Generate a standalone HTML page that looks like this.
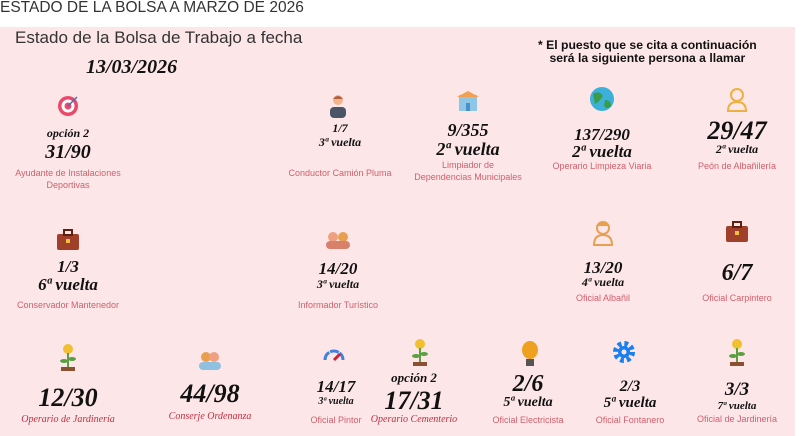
<!DOCTYPE html>
<html><head><meta charset="utf-8"><style>
*{margin:0;padding:0}
body{width:802px;height:436px;background:#fff;position:relative;overflow:hidden;font-family:"Liberation Sans",sans-serif}
#bg{position:absolute;left:0;top:27px;width:795px;height:409px;background:#fde6e8}
.c{position:absolute;transform:translateX(-50%);white-space:nowrap;text-align:center;line-height:1}
.n{font-family:"Liberation Serif",serif;font-weight:bold;font-style:italic;color:#111}
.l{font-size:9px;color:#d0606c;line-height:12px}
.i{position:absolute;transform:translateX(-50%)}
</style></head><body>
<div style="position:absolute;left:0;top:-1px;font-size:15.5px;color:#333;">ESTADO DE LA BOLSA A MARZO DE 2026</div>
<div id="bg"></div>
<div style="position:absolute;left:15px;top:28px;font-size:17px;color:#333">Estado de la Bolsa de Trabajo a fecha</div>
<div class="n" style="position:absolute;left:86px;top:56px;font-size:20px">13/03/2026</div>
<div style="position:absolute;left:538px;top:39px;font-size:12.2px;font-weight:bold;color:#111;line-height:13px;text-align:center">* El puesto que se cita a continuación<br>será la siguiente persona a llamar</div>

<!-- row1 -->
<svg class="i" style="left:68px;top:94px" width="24" height="24"><circle cx="12" cy="12" r="10" fill="#e94a6a"/><circle cx="12" cy="12" r="6.5" fill="#fff"/><circle cx="12" cy="12" r="3.5" fill="#e94a6a"/><line x1="12" y1="12" x2="21" y2="3" stroke="#4a6fb0" stroke-width="1.5"/></svg>
<div class="c n" style="left:68px;top:127px;font-size:12px">opción 2</div>
<div class="c n" style="left:68px;top:142px;font-size:20px">31/90</div>
<div class="c l" style="left:68px;top:167px">Ayudante de Instalaciones<br>Deportivas</div>

<svg class="i" style="left:338px;top:93px" width="20" height="26"><circle cx="10" cy="7" r="5" fill="#f2b48a"/><path d="M5 6 Q10 0 15 6" fill="#b06040"/><rect x="2" y="14" width="16" height="11" rx="4" fill="#4a5568"/></svg>
<div class="c n" style="left:340px;top:122px;font-size:12px">1/7</div>
<div class="c n" style="left:340px;top:136px;font-size:12px">3ª vuelta</div>
<div class="c l" style="left:340px;top:167px">Conductor Camión Pluma</div>

<svg class="i" style="left:468px;top:87px" width="26" height="26"><rect x="4" y="8" width="18" height="16" fill="#8ec6e8"/><path d="M2 10 L13 4 L24 10Z" fill="#f0a050"/><rect x="11" y="16" width="4" height="8" fill="#4a90c8"/></svg>
<div class="c n" style="left:468px;top:121px;font-size:18px">9/355</div>
<div class="c n" style="left:468px;top:140px;font-size:18px">2ª vuelta</div>
<div class="c l" style="left:468px;top:159px">Limpiador de<br>Dependencias Municipales</div>

<svg class="i" style="left:602px;top:86px" width="26" height="26"><circle cx="13" cy="13" r="12" fill="#3bb0d8"/><path d="M4 8 Q10 4 14 10 Q10 16 6 18Z M16 14 Q22 14 22 20 Q18 24 15 20Z" fill="#3a9c48"/></svg>
<div class="c n" style="left:602px;top:126px;font-size:17px">137/290</div>
<div class="c n" style="left:602px;top:143px;font-size:17px">2ª vuelta</div>
<div class="c l" style="left:602px;top:160px">Operario Limpieza Viaria</div>

<svg class="i" style="left:737px;top:87px" width="24" height="26"><circle cx="12" cy="8" r="6" fill="none" stroke="#eeb040" stroke-width="2"/><path d="M3 24 Q3 15 12 15 Q21 15 21 24Z" fill="none" stroke="#eeb040" stroke-width="2"/></svg>
<div class="c n" style="left:737px;top:118px;font-size:26px">29/47</div>
<div class="c n" style="left:737px;top:143px;font-size:12px">2ª vuelta</div>
<div class="c l" style="left:737px;top:160px">Peón de Albañilería</div>

<!-- row2 -->
<svg class="i" style="left:68px;top:229px" width="26" height="22"><rect x="2" y="5" width="22" height="16" rx="2" fill="#a0402a"/><rect x="9" y="1" width="8" height="5" fill="none" stroke="#602010" stroke-width="2"/><rect x="11" y="10" width="4" height="4" fill="#f0c040"/></svg>
<div class="c n" style="left:68px;top:258px;font-size:17px">1/3</div>
<div class="c n" style="left:68px;top:276px;font-size:17px">6ª vuelta</div>
<div class="c l" style="left:68px;top:299px">Conservador Mantenedor</div>

<svg class="i" style="left:338px;top:229px" width="28" height="20"><circle cx="9" cy="8" r="5" fill="#f0a080"/><circle cx="19" cy="8" r="5" fill="#e8a050"/><rect x="2" y="12" width="24" height="8" rx="4" fill="#d8806a"/></svg>
<div class="c n" style="left:338px;top:260px;font-size:17px">14/20</div>
<div class="c n" style="left:338px;top:278px;font-size:12px">3ª vuelta</div>
<div class="c l" style="left:338px;top:299px">Informador Turístico</div>

<svg class="i" style="left:603px;top:218px" width="24" height="28"><circle cx="12" cy="10" r="6" fill="none" stroke="#e8a050" stroke-width="2"/><path d="M5 8 Q12 0 19 8" fill="#e8a050"/><path d="M3 27 Q3 17 12 17 Q21 17 21 27Z" fill="none" stroke="#e8a050" stroke-width="2"/></svg>
<div class="c n" style="left:603px;top:259px;font-size:17px">13/20</div>
<div class="c n" style="left:603px;top:276px;font-size:12px">4ª vuelta</div>
<div class="c l" style="left:603px;top:292px">Oficial Albañil</div>

<svg class="i" style="left:737px;top:221px" width="26" height="22"><rect x="2" y="5" width="22" height="16" rx="2" fill="#a0402a"/><rect x="9" y="1" width="8" height="5" fill="none" stroke="#602010" stroke-width="2"/><rect x="11" y="10" width="4" height="4" fill="#f0c040"/></svg>
<div class="c n" style="left:737px;top:261px;font-size:24px">6/7</div>
<div class="c l" style="left:737px;top:292px">Oficial Carpintero</div>

<!-- row3 -->
<svg class="i" style="left:68px;top:343px" width="18" height="30"><circle cx="9" cy="6" r="5" fill="#f0c030"/><line x1="9" y1="10" x2="9" y2="24" stroke="#5aa040" stroke-width="2"/><ellipse cx="5" cy="18" rx="4" ry="2" fill="#5aa040"/><ellipse cx="13" cy="16" rx="4" ry="2" fill="#5aa040"/><rect x="2" y="24" width="14" height="4" fill="#8a5030"/></svg>
<div class="c n" style="left:68px;top:385px;font-size:26px">12/30</div>
<div class="c n l" style="left:68px;top:414px;font-weight:normal;color:#c03040;font-size:10px">Operario de Jardinería</div>

<svg class="i" style="left:210px;top:350px" width="26" height="20"><circle cx="9" cy="7" r="5" fill="#e8a050"/><circle cx="17" cy="7" r="5" fill="#f0a080"/><rect x="2" y="12" width="22" height="8" rx="4" fill="#90c0e0"/></svg>
<div class="c n" style="left:210px;top:381px;font-size:26px">44/98</div>
<div class="c n l" style="left:210px;top:411px;font-weight:normal;color:#c03040;font-size:10px">Conserje Ordenanza</div>

<svg class="i" style="left:334px;top:344px" width="24" height="20"><path d="M3 16 A9 9 0 0 1 21 16" fill="none" stroke="#4080e0" stroke-width="3" stroke-dasharray="9 1"/><path d="M12 16 L18 10" stroke="#d02030" stroke-width="3"/></svg>
<div class="c n" style="left:336px;top:378px;font-size:17px">14/17</div>
<div class="c n" style="left:336px;top:397px;font-size:10px">3ª vuelta</div>
<div class="c l" style="left:336px;top:414px">Oficial Pintor</div>

<svg class="i" style="left:420px;top:338px" width="18" height="30"><circle cx="9" cy="6" r="5" fill="#f0c030"/><line x1="9" y1="10" x2="9" y2="24" stroke="#5aa040" stroke-width="2"/><ellipse cx="5" cy="18" rx="4" ry="2" fill="#5aa040"/><ellipse cx="13" cy="16" rx="4" ry="2" fill="#5aa040"/><rect x="2" y="24" width="14" height="4" fill="#8a5030"/></svg>
<div class="c n" style="left:414px;top:371px;font-size:13px">opción 2</div>
<div class="c n" style="left:414px;top:388px;font-size:26px">17/31</div>
<div class="c n l" style="left:414px;top:414px;font-weight:normal;color:#c03040;font-size:10px">Operario Cementerio</div>

<svg class="i" style="left:530px;top:340px" width="18" height="28"><ellipse cx="9" cy="10" rx="8" ry="9" fill="#f0a020"/><rect x="5" y="19" width="8" height="7" fill="#555"/></svg>
<div class="c n" style="left:528px;top:372px;font-size:24px">2/6</div>
<div class="c n" style="left:528px;top:396px;font-size:14px">5ª vuelta</div>
<div class="c l" style="left:528px;top:414px">Oficial Electricista</div>

<svg class="i" style="left:624px;top:341px" width="22" height="22"><circle cx="11" cy="11" r="8" fill="none" stroke="#1a80f0" stroke-width="6" stroke-dasharray="3.5 2.8"/><circle cx="11" cy="11" r="6" fill="#1a80f0"/><circle cx="11" cy="11" r="2.5" fill="#fde6e8"/></svg>
<div class="c n" style="left:630px;top:379px;font-size:16px">2/3</div>
<div class="c n" style="left:630px;top:396px;font-size:15px">5ª vuelta</div>
<div class="c l" style="left:630px;top:414px">Oficial Fontanero</div>

<svg class="i" style="left:737px;top:338px" width="18" height="30"><circle cx="9" cy="6" r="5" fill="#f0c030"/><line x1="9" y1="10" x2="9" y2="24" stroke="#5aa040" stroke-width="2"/><ellipse cx="5" cy="18" rx="4" ry="2" fill="#5aa040"/><ellipse cx="13" cy="16" rx="4" ry="2" fill="#5aa040"/><rect x="2" y="24" width="14" height="4" fill="#8a5030"/></svg>
<div class="c n" style="left:737px;top:380px;font-size:19px">3/3</div>
<div class="c n" style="left:737px;top:401px;font-size:11px">7ª vuelta</div>
<div class="c l" style="left:737px;top:413px">Oficial de Jardinería</div>
</body></html>
